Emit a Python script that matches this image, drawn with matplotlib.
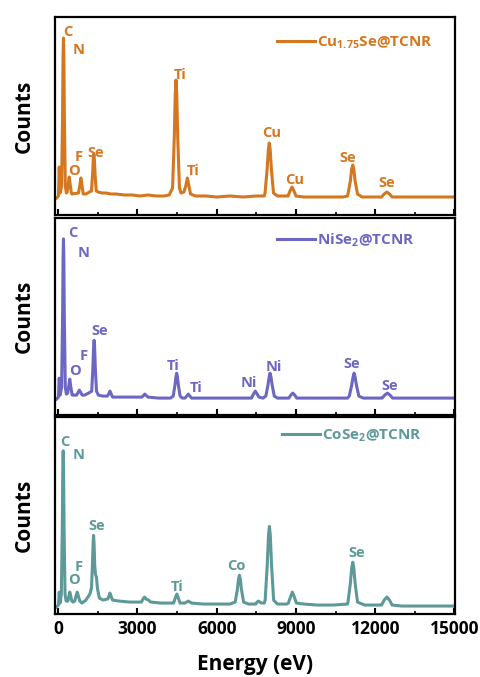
import matplotlib
matplotlib.use("Agg")
import matplotlib.pyplot as plt
from matplotlib.ticker import MultipleLocator

plt.rcParams["font.family"] = ["Open Sans", "DejaVu Sans"]
plt.rcParams["font.weight"] = "bold"
plt.rcParams["mathtext.fontset"] = "custom"
plt.rcParams["mathtext.rm"] = "Open Sans:bold"
plt.rcParams["mathtext.default"] = "rm"

# ---------------- EDS spectra (energy in eV, counts in arbitrary units) ----------------
cu_energy = [-60, 10, 40, 75, 130, 165, 184, 200, 216, 235, 270, 310, 340, 377, 417, 457, 500, 520,
             770, 815, 860, 905, 950, 1050, 1180, 1260, 1305, 1330, 1350, 1370, 1395, 1440, 1520, 1650,
             1800, 2000, 2200, 2500, 2800, 3100, 3400, 3700, 4000, 4200, 4330, 4395, 4431, 4460, 4489,
             4525, 4590, 4650, 4760, 4830, 4890, 4950, 5010, 5200, 5600, 6000, 6500, 7000, 7500, 7800,
             7830, 7910, 7954, 7990, 8026, 8070, 8150, 8300, 8650, 8700, 8775, 8850, 8925, 9000, 9300,
             9800, 10300, 10800, 10950, 10970, 11060, 11110, 11150, 11190, 11240, 11330, 11500, 12100,
             12240, 12340, 12440, 12540, 12640, 13000, 13500, 14000, 14500, 15000]
cu_counts = [17, 19, 48, 22, 29, 98, 157, 177, 157, 98, 29, 22, 23, 30, 38, 30, 22, 21,
             22, 29, 37, 29, 21, 21, 23, 24, 42, 56, 61, 56, 42, 24, 23, 22,
             22, 21, 21, 20, 20, 19, 20, 19, 19, 20, 27, 78, 120, 135, 120,
             78, 27, 22, 23, 29, 37, 29, 21, 19, 19, 18, 19, 18, 19, 19,
             22, 46, 65, 72, 65, 46, 22, 19, 19, 19, 24, 28, 24, 19, 18,
             18, 18, 18, 19, 21, 34, 46, 50, 46, 34, 21, 18, 18,
             18, 21, 23, 21, 18, 18, 18, 18, 18, 18]

ni_energy = [-60, 10, 40, 75, 130, 167, 185, 200, 215, 233, 270, 310, 360, 400, 440, 480, 530, 600,
             700, 760, 800, 845, 910, 1000, 1150, 1270, 1315, 1340, 1360, 1380, 1405, 1450, 1520, 1700,
             1860, 1910, 1960, 2010, 2060, 2400, 2900, 3170, 3225, 3280, 3335, 3400, 3800, 4250, 4355,
             4420, 4456, 4485, 4514, 4550, 4615, 4700, 4800, 4865, 4925, 4985, 5050, 5500, 6000, 6500,
             7000, 7300, 7320, 7390, 7460, 7530, 7600, 7750, 7860, 7940, 7984, 8020, 8056, 8100, 8180,
             8300, 8650, 8730, 8805, 8880, 8955, 9030, 9500, 10000, 10500, 10950, 11020, 11110, 11160,
             11200, 11240, 11290, 11380, 11550, 12200, 12260, 12360, 12460, 12560, 12660, 13000, 14000,
             15000]
ni_counts = [16, 18, 37, 20, 28, 98, 157, 177, 157, 98, 28, 21, 22, 29, 36, 28, 20, 20,
             20, 23, 25, 23, 20, 20, 22, 24, 48, 68, 75, 68, 48, 24, 20, 19,
             19, 21, 24, 21, 18, 18, 18, 18, 19.5, 21, 19.5, 18, 17, 17, 19,
             30, 38, 42, 38, 30, 19, 17, 17, 19, 21, 19, 17, 17, 17, 17,
             17, 17, 17, 21, 24, 21, 18, 17, 19, 30, 38, 42, 38, 30, 19,
             17, 17, 17, 20, 22, 20, 17, 17, 17, 17, 17, 19, 30, 38,
             42, 38, 30, 19, 17, 17, 17, 20, 22, 20, 17, 17, 17,
             17]

co_energy = [-60, 10, 40, 75, 120, 157, 175, 190, 205, 223, 260, 300, 370, 405, 440, 475, 520, 560,
             630, 675, 720, 765, 820, 900, 1050, 1200, 1260, 1298, 1320, 1340, 1360, 1382, 1410, 1450,
             1490, 1560, 1700, 1850, 1880, 1920, 1960, 2000, 2060, 2300, 2700, 3000, 3150, 3210, 3270,
             3330, 3420, 3500, 3900, 4300, 4370, 4430, 4490, 4550, 4610, 4800, 4930, 5050, 5500, 6000,
             6500, 6700, 6785, 6825, 6860, 6895, 6935, 7020, 7200, 7450, 7480, 7530, 7580, 7630, 7700,
             7800, 7835, 7915, 7960, 7995, 8030, 8075, 8155, 8300, 8650, 8715, 8790, 8865, 8940, 9015,
             9300, 9800, 10400, 10950, 10970, 11060, 11110, 11150, 11190, 11240, 11330, 11600, 12200,
             12240, 12340, 12440, 12540, 12640, 13000, 14000, 15000]
co_counts = [7, 9, 22, 11, 20, 88, 145, 164, 145, 88, 20, 13, 13, 18, 22, 18, 13, 12,
             13, 18, 22, 18, 13, 11, 14, 20, 26, 50, 70, 79, 70, 50, 40, 37,
             25, 16, 14, 15, 15, 18, 21, 18, 14, 13, 12, 12, 12, 15, 17,
             15, 14, 12, 11, 11, 11, 16, 20, 16, 11, 11, 13, 11, 10, 10,
             10, 12, 25, 35, 39, 35, 25, 12, 10, 10, 10, 12, 13, 12, 11,
             11, 14, 50, 79, 88, 79, 50, 14, 10, 10, 11, 17, 22, 17, 11,
             10, 9, 9, 10, 12, 31, 46, 52, 46, 31, 12, 9, 9,
             9, 14, 17, 14, 9, 8, 8, 8]

# Element labels: (text, energy, counts)
cu_labels = [("C", 367, 183), ("N", 784, 165), ("O", 595, 44), ("F", 784, 58), ("Se", 1428, 62),
             ("Ti", 4610, 140), ("Ti", 5102, 44), ("Cu", 8095, 82), ("Cu", 8966, 35),
             ("Se", 10974, 57), ("Se", 12451, 32)]
ni_labels = [("C", 568, 183), ("N", 947, 163), ("O", 633, 44), ("F", 947, 59), ("Se", 1580, 84),
             ("Ti", 4333, 49), ("Ti", 5216, 27), ("Ni", 7197, 32), ("Ni", 8144, 48),
             ("Se", 11114, 51), ("Se", 12565, 29)]
co_labels = [("C", 254, 173), ("N", 758, 160), ("O", 595, 34), ("F", 784, 47), ("Se", 1455, 88),
             ("Ti", 4508, 27), ("Co", 6758, 48), ("Se", 11303, 61)]

series_names = ["Cu$_{1.75}$Se@TCNR", "NiSe$_{2}$@TCNR", "CoSe$_{2}$@TCNR"]
colors = ["#D4771F", "#6C67C2", "#5E9999"]
xticks = [0, 3000, 6000, 9000, 12000, 15000]

panels = [
    (cu_energy, cu_counts, cu_labels),
    (ni_energy, ni_counts, ni_labels),
    (co_energy, co_counts, co_labels),
]

W, H = 480, 677
fig = plt.figure(figsize=(W / 100, H / 100), dpi=100)

# pixel boxes (top, bottom) of each panel
boxes = [(17, 215), (218, 415), (417, 614)]
left_px, right_px = 55, 455
legend_anchor = [(0.555, 0.869), (0.555, 0.888), (0.567, 0.904)]

axes = []
for i, ((energy, counts, labels), (top, bot)) in enumerate(zip(panels, boxes)):
    ax = fig.add_axes([left_px / W, 1 - bot / H, (right_px - left_px) / W, (bot - top) / H])
    axes.append(ax)
    col = colors[i]
    ax.plot(energy, counts, color=col, lw=2.2, solid_joinstyle="round", label=series_names[i])
    for txt, e, c in labels:
        ax.text(e, c, txt, color=col, fontsize=10.5, fontweight="bold", ha="center", va="center")
    ax.set_xlim(-120, 15020)
    ax.set_ylim(0, 198)
    ax.set_yticks([])
    ax.set_xticks(xticks)
    ax.xaxis.set_minor_locator(MultipleLocator(1500))
    ax.tick_params(axis="x", which="major", direction="in", length=4, width=1.5,
                   labelsize=12.5, pad=4, top=False)
    ax.tick_params(axis="x", which="minor", direction="in", length=2.5, width=1.2, top=False)
    for s in ax.spines.values():
        s.set_linewidth(1.6)
    if i < 2:
        ax.tick_params(axis="x", which="both", labelbottom=False)
    else:
        for lab in ax.get_xticklabels():
            lab.set_fontweight("bold")
    ax.set_ylabel("Counts", fontsize=15, fontweight="bold")
    ax.yaxis.set_label_coords(-0.05, 0.5)
    leg = ax.legend(loc="center left", bbox_to_anchor=legend_anchor[i], frameon=False,
                    fontsize=11, handlelength=2.5, handletextpad=0.15, borderpad=0,
                    borderaxespad=0)
    for t in leg.get_texts():
        t.set_color(col)
        t.set_fontweight("bold")

axes[-1].set_xlabel("Energy (eV)", fontsize=15, fontweight="bold")
axes[-1].xaxis.set_label_coords(0.5, -0.205)

fig.savefig("out.png", dpi=100)
